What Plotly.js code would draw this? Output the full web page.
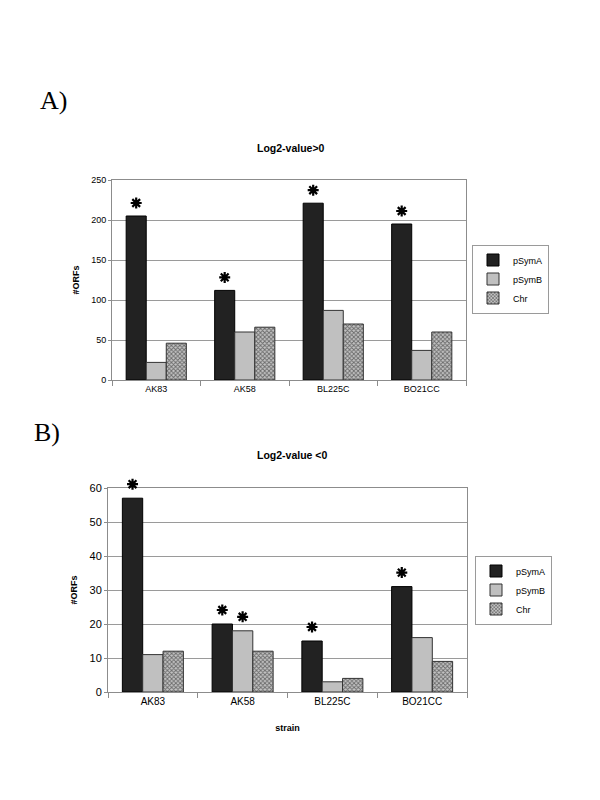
<!DOCTYPE html>
<html>
<head>
<meta charset="utf-8">
<script src="https://cdn.plot.ly/plotly-3.0.1.min.js"></script>
<style>
  html, body { margin: 0; padding: 0; background: #fff; }
  #chart { width: 600px; height: 800px; }
</style>
</head>
<body>
<div id="chart"></div>
<script>
// ---- data ----
const categories = ['AK83', 'AK58', 'BL225C', 'BO21CC'];
const seriesNames = ['pSymA', 'pSymB', 'Chr'];

// Panel A: Log2-value > 0
const posPSymA = [205, 112, 221, 195];
const posPSymB = [22, 60, 87, 37];
const posChr   = [46, 66, 70, 60];
const posStarPSymA = [1, 1, 1, 1];
const posStarPSymB = [0, 0, 0, 0];
const posStarChr   = [0, 0, 0, 0];

// Panel B: Log2-value < 0
const negPSymA = [57, 20, 15, 31];
const negPSymB = [11, 18, 3, 16];
const negChr   = [12, 12, 4, 9];
const negStarPSymA = [1, 1, 1, 1];
const negStarPSymB = [0, 1, 0, 0];
const negStarChr   = [0, 0, 0, 0];

const panelTitles = ['Log2-value>0', 'Log2-value <0'];
const panelLabels = ['A)', 'B)'];
const yTitle = '#ORFs';
const xTitle = 'strain';

// ---- styles / geometry ----
const BARGAP = 0.32;
const yDomainA = [1 - 380/800, 1 - 180/800];
const yDomainB = [1 - 692/800, 1 - 488/800];
const yRangeA = [0, 250];
const yRangeB = [0, 60];

const styles = [
  { color: '#222222', line: '#000000', pattern: null },
  { color: '#c0c0c0', line: '#333333', pattern: null },
  { color: '#b0b0b0', line: '#333333',
    pattern: { shape: 'x', size: 3, solidity: 0.5, fgcolor: '#6a6a6a', bgcolor: '#c4c4c4', fillmode: 'replace' } }
];

function makeTraces(values, xa, ya, legend) {
  return values.map((vals, i) => {
    const m = { color: styles[i].color, line: { color: styles[i].line, width: 1 } };
    if (styles[i].pattern) m.pattern = styles[i].pattern;
    return {
      type: 'bar',
      name: seriesNames[i],
      x: categories,
      y: vals,
      xaxis: xa,
      yaxis: ya,
      legend: legend,
      marker: m,
      hoverinfo: 'x+y+name'
    };
  });
}

// asterisk marks anchored to the top of flagged bars (pixel-sized shape,
// vertical anchor converted from the y axis value to paper so it is not clipped)
function starShapes(values, stars, xref, yDomain, yRange, lift) {
  const out = [];
  const n = values.length;
  const w = (1 - BARGAP) / n;
  const r = 5.5, d = 3.9, c = lift;
  const path = `M0,${c - r}L0,${c + r}M${-r},${c}L${r},${c}` +
               `M${-d},${c - d}L${d},${c + d}M${-d},${c + d}L${d},${c - d}`;
  values.forEach((vals, i) => {
    vals.forEach((v, j) => {
      if (!stars[i][j]) return;
      const yPaper = yDomain[0] + (v - yRange[0]) / (yRange[1] - yRange[0]) * (yDomain[1] - yDomain[0]);
      out.push({
        type: 'path', xref: xref, yref: 'paper',
        xsizemode: 'pixel', ysizemode: 'pixel',
        xanchor: j + (i - (n - 1) / 2) * w, yanchor: yPaper,
        path: path,
        line: { color: '#000', width: 2.2 }
      });
    });
  });
  return out;
}

const posVals = [posPSymA, posPSymB, posChr];
const negVals = [negPSymA, negPSymB, negChr];

const traces = [
  ...makeTraces(posVals, 'x', 'y', 'legend'),
  ...makeTraces(negVals, 'x2', 'y2', 'legend2')
];

const shapes = [
  ...starShapes(posVals, [posStarPSymA, posStarPSymB, posStarChr], 'x', yDomainA, yRangeA, 13),
  ...starShapes(negVals, [negStarPSymA, negStarPSymB, negStarChr], 'x2', yDomainB, yRangeB, 14)
];

const font = 'Liberation Sans, Arial, sans-serif';
const axisCommon = {
  showline: true, mirror: true, linecolor: '#8c8c8c', linewidth: 1,
  zeroline: false, fixedrange: true
};

const legendCommon = {
  bgcolor: '#ffffff', bordercolor: '#9a9a9a', borderwidth: 1,
  font: { family: font, size: 9, color: '#000' },
  xanchor: 'left', yanchor: 'middle',
  tracegroupgap: 0, itemwidth: 30
};

const layout = {
  width: 600, height: 800,
  margin: { l: 0, r: 0, t: 0, b: 0 },
  paper_bgcolor: '#ffffff', plot_bgcolor: '#ffffff',
  showlegend: true,
  barmode: 'group',
  bargap: BARGAP,
  bargroupgap: 0,
  font: { family: font, size: 9, color: '#000' },
  xaxis: Object.assign({}, axisCommon, {
    domain: [112/600, 466/600], anchor: 'y',
    ticks: 'outside', tickson: 'boundaries', ticklen: 5, tickcolor: '#8c8c8c',
    tickfont: { family: font, size: 9 }
  }),
  yaxis: Object.assign({}, axisCommon, {
    domain: yDomainA, anchor: 'x',
    range: yRangeA, dtick: 50, tick0: 0,
    showgrid: true, gridcolor: '#9a9a9a', gridwidth: 1,
    ticks: 'outside', ticklen: 3, tickcolor: '#8c8c8c',
    tickfont: { family: font, size: 9 },
    title: { text: '<b>' + yTitle + '</b>', font: { family: font, size: 9 }, standoff: 10 }
  }),
  xaxis2: Object.assign({}, axisCommon, {
    domain: [108/600, 467/600], anchor: 'y2',
    ticks: 'outside', tickson: 'boundaries', ticklen: 5, tickcolor: '#8c8c8c',
    tickfont: { family: font, size: 10 },
    title: { text: '<b>' + xTitle + '</b>', font: { family: font, size: 9 }, standoff: 18 }
  }),
  yaxis2: Object.assign({}, axisCommon, {
    domain: yDomainB, anchor: 'x2',
    range: yRangeB, dtick: 10, tick0: 0,
    showgrid: true, gridcolor: '#9a9a9a', gridwidth: 1,
    ticks: 'outside', ticklen: 3, tickcolor: '#8c8c8c',
    tickfont: { family: font, size: 11 },
    title: { text: '<b>' + yTitle + '</b>', font: { family: font, size: 9 }, standoff: 10 }
  }),
  legend: Object.assign({}, legendCommon, { x: 472/600, y: 1 - 279/800 }),
  legend2: Object.assign({}, legendCommon, { x: 475/600, y: 1 - 590/800 }),
  shapes: shapes,
  annotations: [
    { xref: 'paper', yref: 'paper', x: 291/600, y: 1 - 148/800, xanchor: 'center', yanchor: 'middle',
      text: '<b>' + panelTitles[0] + '</b>', showarrow: false, font: { family: font, size: 10.5, color: '#000' } },
    { xref: 'paper', yref: 'paper', x: 292/600, y: 1 - 455/800, xanchor: 'center', yanchor: 'middle',
      text: '<b>' + panelTitles[1] + '</b>', showarrow: false, font: { family: font, size: 10.5, color: '#000' } },
    { xref: 'paper', yref: 'paper', x: 38/600, y: 1 - 100/800, xanchor: 'left', yanchor: 'middle',
      text: panelLabels[0], showarrow: false, font: { family: 'Liberation Serif, Times New Roman, serif', size: 26, color: '#000' } },
    { xref: 'paper', yref: 'paper', x: 32/600, y: 1 - 432/800, xanchor: 'left', yanchor: 'middle',
      text: panelLabels[1], showarrow: false, font: { family: 'Liberation Serif, Times New Roman, serif', size: 26, color: '#000' } }
  ]
};

Plotly.newPlot('chart', traces, layout, { staticPlot: true, displayModeBar: false });
</script>
</body>
</html>
